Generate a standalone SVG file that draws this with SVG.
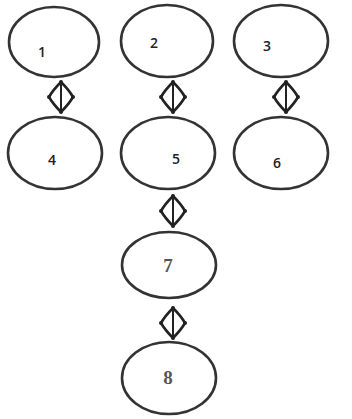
<svg xmlns="http://www.w3.org/2000/svg" width="352" height="419" viewBox="0 0 352 419">
<style>
.node ellipse{fill:none;stroke:#333;stroke-width:2.6}
.lbl{font-family:"Open Sans","Liberation Sans",sans-serif;font-size:14px;font-weight:600;fill:#222;text-anchor:middle}
.lbl2{font-family:"Liberation Serif",serif;font-size:19px;font-weight:bold;fill:#555;text-anchor:middle}
</style>
<defs>
<g id="dia" fill="none" stroke="#222" stroke-linejoin="round">
<path d="M0,-15 Q-8,-7 -12,0 Q-8,7 0,15 Q8,7 12,0 Q8,-7 0,-15 Z" stroke-width="2.6"/>
<path d="M0,-13 V13" stroke-width="2"/>
<circle cx="0" cy="-15" r="2" fill="#222" stroke="none"/>
<circle cx="0" cy="15" r="2" fill="#222" stroke="none"/>
<circle cx="-12" cy="0" r="2" fill="#222" stroke="none"/>
<circle cx="12" cy="0" r="2" fill="#222" stroke="none"/>
</g>
</defs>
<rect width="352" height="419" fill="#fff"/>
<g id="connectors">
<use href="#dia" x="61" y="97"/>
<use href="#dia" x="173" y="97"/>
<use href="#dia" x="286" y="97"/>
<use href="#dia" x="173" y="211"/>
<use href="#dia" x="173" y="323"/>
</g>
<g class="node" id="n1"><ellipse cx="54" cy="42" rx="45" ry="35"/><text class="lbl" x="42" y="57">1</text></g>
<g class="node" id="n2"><ellipse cx="167" cy="41" rx="46" ry="36"/><text class="lbl" x="154" y="48">2</text></g>
<g class="node" id="n3"><ellipse cx="281" cy="41" rx="47" ry="36"/><text class="lbl" x="267" y="51">3</text></g>
<g class="node" id="n4"><ellipse cx="55" cy="153" rx="47" ry="36"/><text class="lbl" x="52" y="165">4</text></g>
<g class="node" id="n5"><ellipse cx="168" cy="153" rx="47" ry="36"/><text class="lbl" x="176" y="164">5</text></g>
<g class="node" id="n6"><ellipse cx="281" cy="153" rx="47" ry="36"/><text class="lbl" x="277" y="168">6</text></g>
<g class="node" id="n7"><ellipse cx="169" cy="265" rx="47" ry="33"/><text class="lbl2" x="168" y="272">7</text></g>
<g class="node" id="n8"><ellipse cx="169" cy="378" rx="47" ry="36"/><text class="lbl2" x="168" y="384">8</text></g>
</svg>
